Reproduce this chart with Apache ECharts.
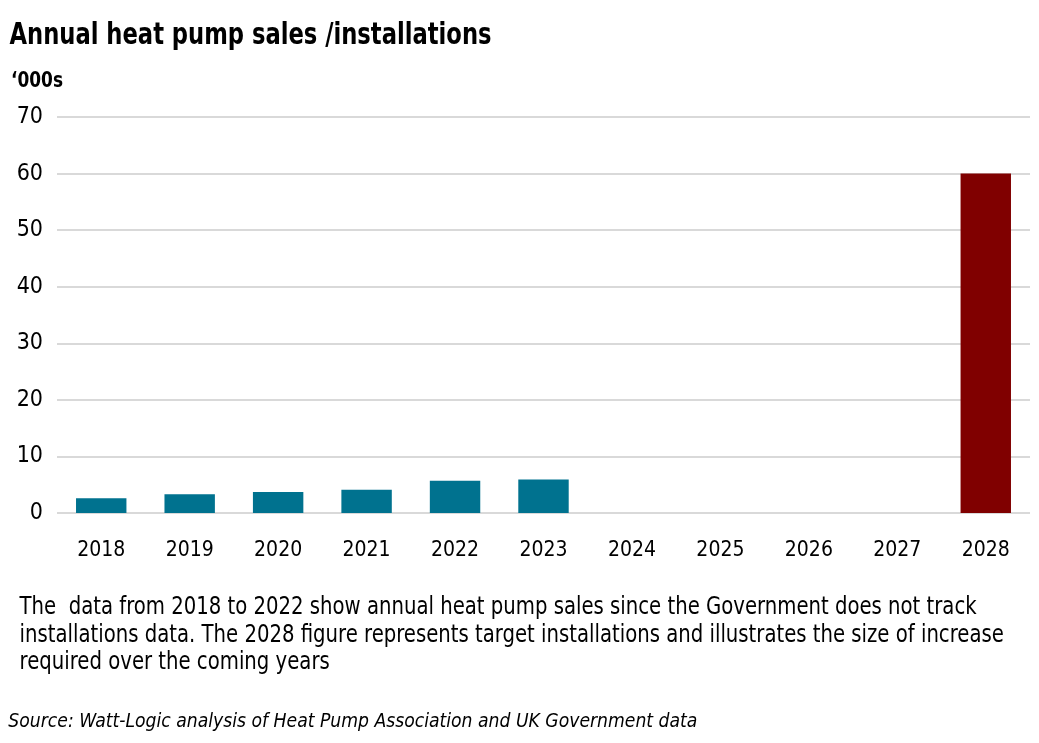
<!DOCTYPE html>
<html><head><meta charset="utf-8">
<script src="https://cdn.jsdelivr.net/npm/echarts@6/dist/echarts.min.js"></script>
<style>html,body{margin:0;padding:0;background:#fff}#c{width:1039px;height:743px}</style>
</head><body><div id="c"></div>
<script>
const categories = ['2018','2019','2020','2021','2022','2023','2024','2025','2026','2027','2028'];
const salesValues = [2.6, 3.3, 3.7, 4.1, 5.7, 5.9, null, null, null, null, null];
const targetValues = [null, null, null, null, null, null, null, null, null, null, 60];
const yTicks = [0, 10, 20, 30, 40, 50, 60, 70];
const titleText = 'Annual heat pump sales /installations';
const unitText = '\u2018000s';
const noteLines = [
  'The  data from 2018 to 2022 show annual heat pump sales since the Government does not track',
  'installations data. The 2028 figure represents target installations and illustrates the size of increase',
  'required over the coming years'
];
const sourceText = 'Source: Watt-Logic analysis of Heat Pump Association and UK Government data';

const FONT = '"DejaVu Sans Condensed", "DejaVu Sans", sans-serif';
const ctx = document.createElement('canvas').getContext('2d');
function measure(text, size, weight, style) {
  ctx.font = (style || 'normal') + ' ' + (weight || 'normal') + ' ' + size + 'px ' + FONT;
  return ctx.measureText(text).width;
}
// horizontal squeeze factors so the condensed fallback font matches the reference text widths
const titleScale = 482 / measure(titleText, 30, 'bold');
const unitScale = 52 / measure(unitText, 21, 'bold');
const noteScale = 957 / measure(noteLines[0], 24);
const sourceScale = 689 / measure(sourceText, 20, 'normal', 'italic');

function txt(text, x, y, size, weight, style, sx) {
  return { type: 'text', x: x, y: y, scaleX: sx, scaleY: 1, originX: x, originY: y,
    style: { text: text, font: (style||'normal') + ' ' + (weight||'normal') + ' ' + size + 'px ' + FONT,
      fill: '#000', textVerticalAlign: 'middle', textAlign: 'left', verticalAlign: 'middle', align: 'left' } };
}

const chart = echarts.init(document.getElementById('c'));
const graphics = [
  txt(titleText, 8, 36, 31, 'bold', 'normal', titleScale * 30 / 31),
  txt(unitText, 10, 82, 21, 'bold', 'normal', unitScale)
];
noteLines.forEach((l, i) => graphics.push(txt(l, 18, 608 + i * 27.5, 24, 'normal', 'normal', noteScale)));
graphics.push(txt(sourceText, 8, 722, 20, 'normal', 'italic', sourceScale));

chart.setOption({
  animation: false,
  backgroundColor: '#fff',
  textStyle: { fontFamily: FONT },
  graphic: graphics,
  grid: { left: 57, right: 9, top: 117, bottom: 230, containLabel: false },
  xAxis: {
    type: 'category', data: categories,
    axisLine: { show: false }, axisTick: { show: false },
    axisLabel: { color: '#000', fontSize: 21, margin: 27, fontFamily: FONT }
  },
  yAxis: {
    type: 'value', min: 0, max: 70, interval: 10,
    axisLine: { show: false }, axisTick: { show: false },
    axisLabel: { color: '#000', fontSize: 23, margin: 14, fontFamily: FONT,
      formatter: v => yTicks.includes(v) ? String(v) : '' },
    splitLine: { lineStyle: { color: '#d9d9d9', width: 2 } }
  },
  series: [
    { type: 'bar', data: salesValues, stack: 's', barWidth: '57%', itemStyle: { color: '#00728f' } },
    { type: 'bar', data: targetValues, stack: 's', barWidth: '57%', itemStyle: { color: '#800000' } }
  ]
});
</script></body></html>
